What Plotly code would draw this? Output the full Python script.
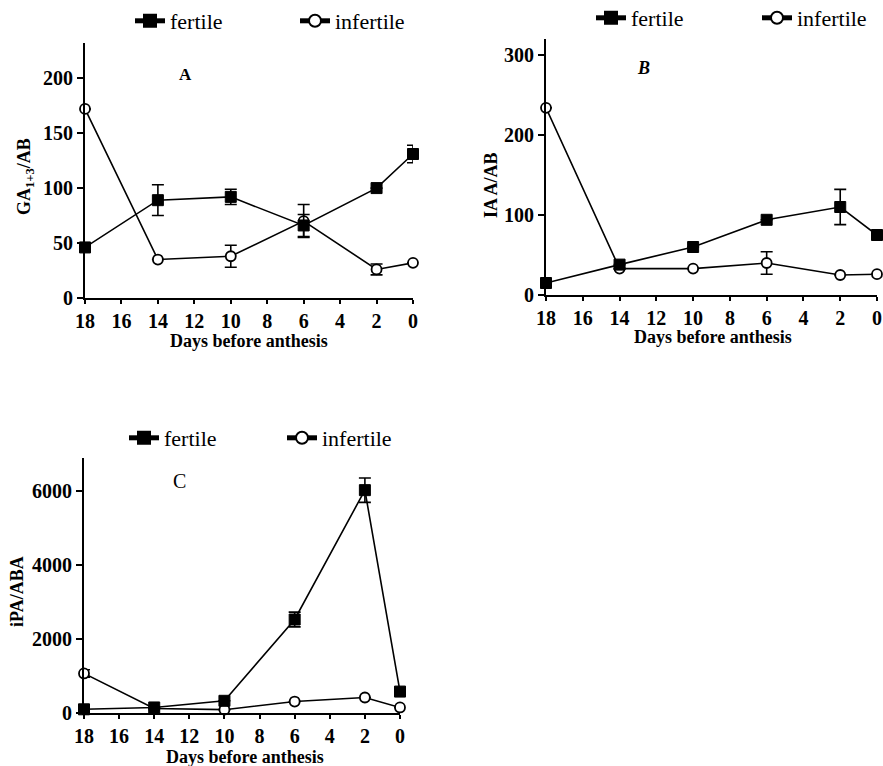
import plotly.graph_objects as go

days = [18, 14, 10, 6, 2, 0]

# Panel A: GA1+3/ABA
a_fertile = [46, 89, 92, 66, 100, 131]
a_fertile_err = [0, 14, 7, 10, 0, 8]
a_infertile = [172, 35, 38, 70, 26, 32]
a_infertile_err = [0, 0, 10, 15, 5, 0]

# Panel B: IAA/ABA
b_fertile = [15, 38, 60, 94, 110, 75]
b_fertile_err = [0, 0, 0, 0, 22, 0]
b_infertile = [234, 33, 33, 40, 25, 26]
b_infertile_err = [0, 0, 0, 14, 0, 0]

# Panel C: iPA/ABA
c_fertile = [100, 150, 330, 2530, 6030, 580]
c_fertile_err = [0, 0, 0, 200, 330, 0]
c_infertile = [1070, 120, 90, 310, 420, 150]
c_infertile_err = [100, 0, 0, 0, 0, 0]

x_ticks = [18, 16, 14, 12, 10, 8, 6, 4, 2, 0]

W, H = 883, 766
FONT = "Liberation Serif"

fig = go.Figure()

def add_pair(xa, ya, fert, ferr, inf, ierr, leg_f, leg_i):
    fig.add_trace(go.Scatter(
        x=days, y=inf, mode="lines+markers", name="infertile",
        xaxis=xa, yaxis=ya, legend=leg_i, showlegend=True,
        line=dict(color="black", width=1.6),
        marker=dict(symbol="circle", size=10, color="white",
                    line=dict(color="black", width=1.8)),
        error_y=dict(type="data", array=ierr, visible=True, color="black",
                     thickness=1.6, width=6),
        cliponaxis=False,
    ))
    fig.add_trace(go.Scatter(
        x=days, y=fert, mode="lines+markers", name="fertile",
        xaxis=xa, yaxis=ya, legend=leg_f, showlegend=True,
        line=dict(color="black", width=1.6),
        marker=dict(symbol="square", size=11, color="black",
                    line=dict(color="black", width=1)),
        error_y=dict(type="data", array=ferr, visible=True, color="black",
                     thickness=1.6, width=6),
        cliponaxis=False,
    ))

add_pair("x", "y", a_fertile, a_fertile_err, a_infertile, a_infertile_err, "legend", "legend2")
add_pair("x2", "y2", b_fertile, b_fertile_err, b_infertile, b_infertile_err, "legend3", "legend4")
add_pair("x3", "y3", c_fertile, c_fertile_err, c_infertile, c_infertile_err, "legend5", "legend6")

def px_x(p):
    return p / W

def px_y(p):
    return 1 - p / H

tickfont = dict(family=FONT, size=20, color="black", weight="bold")
common_x = dict(range=[18, 0], tickvals=x_ticks, ticks="outside", ticklen=4,
                tickwidth=1.5, tickcolor="black", showline=True, linecolor="black",
                linewidth=2, showgrid=False, zeroline=False, tickfont=tickfont)
common_y = dict(ticks="outside", ticklen=6, tickwidth=1.5, tickcolor="black",
                showline=True, linecolor="black", linewidth=2, showgrid=False,
                zeroline=False, tickfont=tickfont)

fig.update_layout(
    width=W, height=H, showlegend=True,
    margin=dict(l=0, r=0, t=0, b=0, autoexpand=False),
    paper_bgcolor="white", plot_bgcolor="white",
    font=dict(family=FONT, color="black"),
    xaxis=dict(domain=[px_x(85), px_x(413)], anchor="y", **common_x),
    yaxis=dict(domain=[px_y(298), px_y(43)], anchor="x", range=[0, 232],
               tickvals=[0, 50, 100, 150, 200], **common_y),
    xaxis2=dict(domain=[px_x(546), px_x(877)], anchor="y2", **common_x),
    yaxis2=dict(domain=[px_y(295), px_y(39)], anchor="x2", range=[0, 320],
                tickvals=[0, 100, 200, 300], **common_y),
    xaxis3=dict(domain=[px_x(84), px_x(400)], anchor="y3", **common_x),
    yaxis3=dict(domain=[px_y(713), px_y(458)], anchor="x3", range=[0, 6900],
                tickvals=[0, 2000, 4000, 6000], **common_y),
)

leg_common = dict(orientation="h", xanchor="left", yanchor="middle",
                  font=dict(family=FONT, size=22, color="black"),
                  bgcolor="rgba(0,0,0,0)", itemsizing="constant",
                  visible=True)
legend_pos = {
    "legend": (130, 21), "legend2": (295, 21),
    "legend3": (591, 18), "legend4": (757, 18),
    "legend5": (124, 438), "legend6": (282, 438),
}
fig.update_layout(**{k: dict(x=px_x(v[0]), y=px_y(v[1]), **leg_common)
                     for k, v in legend_pos.items()})

annots = [
    dict(x=185, y=74, text="<b>A</b>", size=17),
    dict(x=643, y=68, text="<b><i>B</i></b>", size=18),
    dict(x=179, y=481, text="C", size=20),
    dict(x=249, y=341, text="<b>Days before anthesis</b>", size=18),
    dict(x=713, y=337, text="<b>Days before anthesis</b>", size=18),
    dict(x=245, y=757, text="<b>Days before anthesis</b>", size=18),
]
for a in annots:
    fig.add_annotation(x=px_x(a["x"]), y=px_y(a["y"]), xref="paper", yref="paper",
                       text=a["text"], showarrow=False,
                       font=dict(family=FONT, size=a["size"], color="black"),
                       xanchor="center", yanchor="middle")

ytitles = [
    dict(x=25, y=177, text="<b>GA<sub>1+3</sub>/AB</b>"),
    dict(x=491, y=185, text="<b>IA A/AB</b>"),
    dict(x=17, y=592, text="<b>iPA/ABA</b>"),
]
for a in ytitles:
    fig.add_annotation(x=px_x(a["x"]), y=px_y(a["y"]), xref="paper", yref="paper",
                       text=a["text"], showarrow=False, textangle=-90,
                       font=dict(family=FONT, size=18, color="black"),
                       xanchor="center", yanchor="middle")

fig.write_html("out.html", config={"displayModeBar": False},
               post_script="document.body.style.margin='0';document.body.style.overflow='hidden';")
